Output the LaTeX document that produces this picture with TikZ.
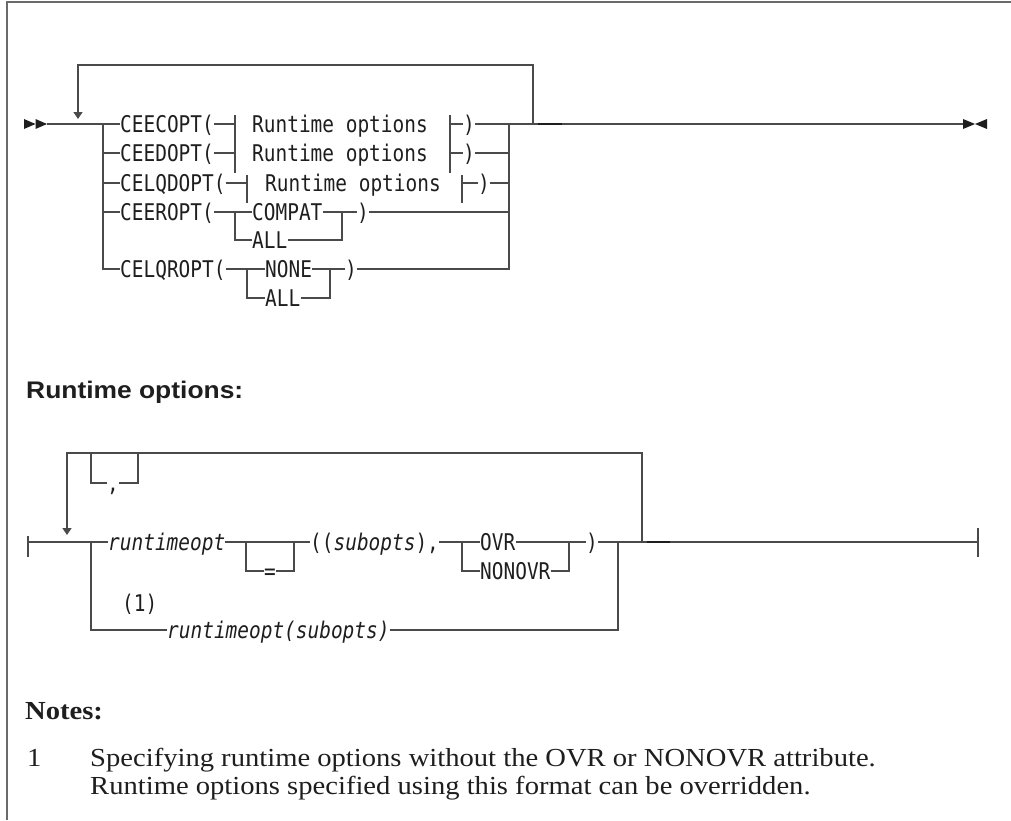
\documentclass[tikz,border=0pt]{standalone}
\usepackage{fontspec}
\usetikzlibrary{arrows.meta}
\newfontfamily\synfont[FakeStretch=0.845]{DejaVu Sans Mono}
\newfontfamily\headfont[FakeStretch=1.1]{Liberation Sans}
\newfontfamily\notefont[FakeStretch=1.1]{Liberation Serif}
\definecolor{railc}{HTML}{4A4A4A}
\definecolor{txtc}{HTML}{1E1E1E}
\definecolor{framec}{HTML}{6A6A6A}
\tikzset{
  rail/.style={draw=railc, line width=1.3pt, line join=miter},
  railtip/.style={rail, -{Triangle[length=7pt,width=9pt]}},
  syn/.style={anchor=west, inner sep=0pt, text height=16.8pt, text depth=0pt,
    font=\synfont\fontsize{23}{23}\selectfont, text=txtc},
  syni/.style={syn, font=\synfont\itshape\fontsize{23}{23}\selectfont},
  head/.style={anchor=base west, inner sep=0pt, text=txtc,
    font=\headfont\bfseries\fontsize{24}{24}\selectfont},
  notes/.style={anchor=base west, inner sep=0pt, text=txtc,
    font=\notefont\fontsize{26}{26}\selectfont},
  notesb/.style={notes, font=\notefont\bfseries\fontsize{26}{26}\selectfont},
  endmark/.style={fill=txtc, draw=none},
}
\begin{document}
\begin{tikzpicture}[x=1pt, y=-1pt]
\useasboundingbox (0,0) rectangle (1011,820);

% page frame
\draw[draw=framec, line width=1.5pt] (7,820) -- (7,2) -- (1011,2);

% ================= main statement =================
% start marker
\fill[endmark] (24,119) -- (35.5,124) -- (24,129) -- cycle;
\fill[endmark] (35.5,119) -- (47,124) -- (35.5,129) -- cycle;
\coordinate (st) at (47,124);
\coordinate (L) at (103,124);
\coordinate (R) at (509,124);
\coordinate (lr) at (533,124);
\coordinate (lrt) at (533,65);
\coordinate (llt) at (78,65);
\coordinate (arr) at (78,119);
\coordinate (en) at (963,124);

\draw[rail] (st) -- (L);
\draw[rail] (R) -- (en);
\draw[railtip] (lr) -- (lrt) -- (llt) -- (arr);
\draw[line width=2.2pt, draw=txtc] (538,124) -- (562,124);
% end marker
\fill[endmark] (963,119) -- (975,124) -- (963,129) -- cycle;
\fill[endmark] (987,119) -- (975,124) -- (987,129) -- cycle;

% row 1
\node[syn] (k1) at (120,124) {CEECOPT(};
\node[syn] (f1) at (252,124) {Runtime options};
\node[syn] (p1) at (463,124) {)};
\coordinate (b1) at (235,124);
\coordinate (b1r) at (450,124);
\draw[rail] (L) -- (k1.west);
\draw[rail] (k1.east) -- (b1);
\draw[rail] ([yshift=9pt]b1) -- ([yshift=-20pt]b1);
\draw[rail] ([yshift=9pt]b1r) -- ([yshift=-20pt]b1r);
\draw[rail] (b1r) -- (p1.west);
\draw[rail] (p1.east) -- (R);

% row 2
\node[syn] (k2) at (120,153) {CEEDOPT(};
\node[syn] (f2) at (252,153) {Runtime options};
\node[syn] (p2) at (463,153) {)};
\coordinate (b2) at (235,153);
\coordinate (b2r) at (450,153);
\draw[rail] (L |- k2.west) -- (k2.west);
\draw[rail] (k2.east) -- (b2);
\draw[rail] ([yshift=9pt]b2) -- ([yshift=-20pt]b2);
\draw[rail] ([yshift=9pt]b2r) -- ([yshift=-20pt]b2r);
\draw[rail] (b2r) -- (p2.west);
\draw[rail] (p2.east) -- (R |- p2.east);

% row 3
\node[syn] (k3) at (120,183) {CELQDOPT(};
\node[syn] (f3) at (265,183) {Runtime options};
\node[syn] (p3) at (478,183) {)};
\coordinate (b3) at (247,183);
\coordinate (b3r) at (462,183);
\draw[rail] (L |- k3.west) -- (k3.west);
\draw[rail] (k3.east) -- (b3);
\draw[rail] ([yshift=8pt]b3) -- ([yshift=-20pt]b3);
\draw[rail] ([yshift=8pt]b3r) -- ([yshift=-20pt]b3r);
\draw[rail] (b3r) -- (p3.west);
\draw[rail] (p3.east) -- (R |- p3.east);

% rows 4-5
\node[syn] (k4) at (120,212) {CEEROPT(};
\node[syn] (c4) at (252,212) {COMPAT};
\node[syn] (a5) at (252,240) {ALL};
\node[syn] (p4) at (357,212) {)};
\coordinate (j4) at (235,212);
\coordinate (j5) at (235,240);
\coordinate (j4r) at (342,212);
\coordinate (j5r) at (342,240);
\draw[rail] (L |- k4.west) -- (k4.west);
\draw[rail] (k4.east) -- (j4) -- (c4.west);
\draw[rail] (c4.east) -- (j4r) -- (p4.west);
\draw[rail] (j4) -- (j5) -- (a5.west);
\draw[rail] (a5.east) -- (j5r) -- (j4r);
\draw[rail] (p4.east) -- (R |- p4.east);

% rows 6-7
\node[syn] (k6) at (120,269) {CELQROPT(};
\node[syn] (n6) at (265,269) {NONE};
\node[syn] (a7) at (265,298) {ALL};
\node[syn] (p6) at (345,269) {)};
\coordinate (j6) at (247,269);
\coordinate (j7) at (247,298);
\coordinate (j6r) at (330,269);
\coordinate (j7r) at (330,298);
\draw[rail] (L) |- (k6.west);
\draw[rail] (k6.east) -- (j6) -- (n6.west);
\draw[rail] (n6.east) -- (j6r) -- (p6.west);
\draw[rail] (j6) -- (j7) -- (a7.west);
\draw[rail] (a7.east) -- (j7r) -- (j6r);
\draw[rail] (p6.east) -| (R);

% ================= fragment =================
\node[head] (hd) at (26,398) {Runtime options:};

\coordinate (S2) at (28,542);
\coordinate (J2) at (91,542);
\coordinate (R2) at (618,542);
\coordinate (lr2) at (642,542);
\coordinate (lrt2) at (642,453);
\coordinate (llt2) at (67,453);
\coordinate (arr2) at (67,535);
\coordinate (E2) at (978,542);

\draw[rail] ([yshift=6pt]S2) -- ([yshift=-15pt]S2);
\draw[rail] (S2) -- (J2);
\draw[railtip] (lr2) -- (lrt2) -- (llt2) -- (arr2);
\draw[rail] (R2) -- (E2);
\draw[line width=2pt, draw=txtc] (647,542) -- (670,542);
\draw[rail] ([yshift=14pt]E2) -- ([yshift=-15pt]E2);

% repetition separator
\node[syn] (cm) at (107,483) {,};
\coordinate (ct1) at (91,453);
\coordinate (ct2) at (138,453);
\draw[rail] (ct1) |- (cm.west);
\draw[rail] (cm.east) -| (ct2);

% first choice
\node[syni] (ro) at (108,542) {runtimeopt};
\node[syn] (eq) at (264,571) {=};
\node[syn] (so) at (310,542) {((\textit{subopts}),};
\node[syn] (ov) at (480,542) {OVR};
\node[syn] (nv) at (480,571) {NONOVR};
\node[syn] (cp) at (586,542) {)};
\coordinate (e1) at (246,542);
\coordinate (e2) at (294,542);
\coordinate (o1) at (462,542);
\coordinate (o2) at (569,542);
\draw[rail] (J2) -- (ro.west);
\draw[rail] (ro.east) -- (e1) -- (e2) -- (so.west);
\draw[rail] (e1) |- (eq.west);
\draw[rail] (eq.east) -| (e2);
\draw[rail] (so.east) -- (o1) -- (ov.west);
\draw[rail] (ov.east) -- (o2);
\draw[rail] (o1) |- (nv.west);
\draw[rail] (nv.east) -| (o2);
\draw[rail] (o2) -- (cp.west);
\draw[rail] (cp.east) -- (R2);

% second choice
\node[syn] (fn) at (122,603) {(1)};
\node[syni] (rs) at (167,630) {runtimeopt(subopts)};
\draw[rail] (J2) |- (rs.west);
\draw[rail] (rs.east) -| (R2);

% ================= notes =================
\node[notesb] (nh) at (25,719) {Notes:};
\node[notes] (nn) at (27,766) {1};
\node[notes] (nt1) at (90,766) {Specifying runtime options without the OVR or NONOVR attribute.};
\node[notes] (nt2) at (90,794) {Runtime options specified using this format can be overridden.};
\end{tikzpicture}
\end{document}
